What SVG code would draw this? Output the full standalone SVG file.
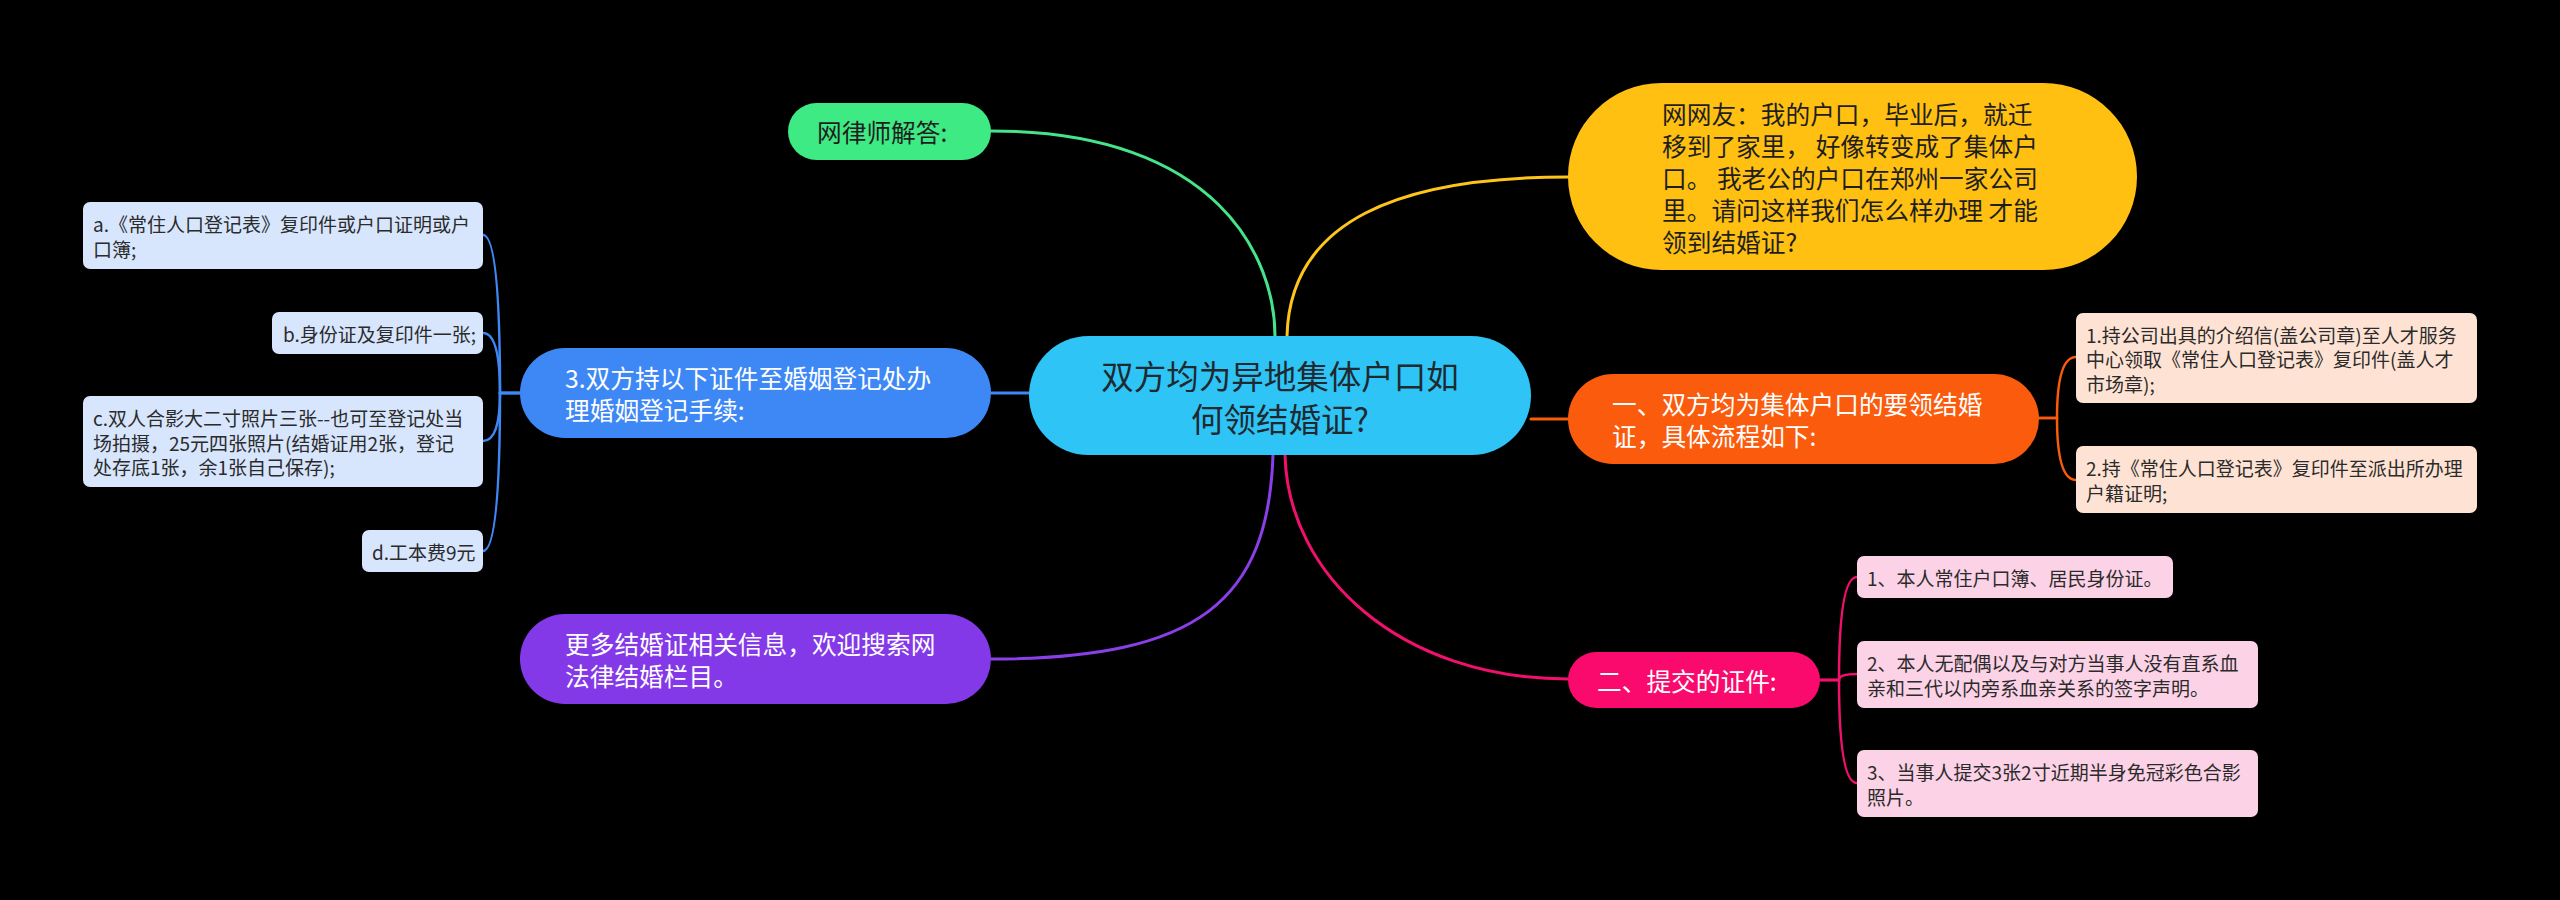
<svg xmlns="http://www.w3.org/2000/svg" width="2560" height="900" viewBox="0 0 2560 900">
<style>
text{font-family:"Noto Sans CJK SC","Liberation Sans",sans-serif;dominant-baseline:central}
.big{font-size:24.7px}
.ctr{font-size:32.5px;fill:#1e2a30}
.sm{font-size:19px;fill:#2b2b2b}
.w{fill:#ffffff}
.dk{fill:#1e1e1e}
.c{fill:none;stroke-width:3;stroke-linecap:round}
.b{fill:none;stroke-width:2.5;stroke-linecap:round}
</style>
<rect x="0" y="0" width="2560" height="900" fill="#000000"/>
<g id="connectors">
<path class="c" stroke="#46E48A" d="M1275,336 C1275,260 1220,131 991,131"/>
<path class="c" stroke="#FFC41A" d="M1287,336 C1290,220 1400,177 1568,177"/>
<path class="c" stroke="#3E88F5" d="M1030,393 H991"/>
<path class="c" stroke="#FA5B0C" d="M1531,419 H1568"/>
<path class="c" stroke="#8A3FE8" d="M1273,455 C1268,600 1200,659 991,659"/>
<path class="c" stroke="#F2106D" d="M1285,455 C1288,575 1400,679 1568,679"/>
<path class="b" stroke="#3E88F5" d="M520,393 H500 Q500,235 483,235"/>
<path class="b" stroke="#3E88F5" d="M520,393 H500 Q500,333 483,333"/>
<path class="b" stroke="#3E88F5" d="M520,393 H500 Q500,441 483,441"/>
<path class="b" stroke="#3E88F5" d="M520,393 H500 Q500,551 483,551"/>
<path class="b" stroke="#FA5B0C" d="M2039,418 H2057 Q2057,357 2076,357"/>
<path class="b" stroke="#FA5B0C" d="M2039,418 H2057 Q2057,480 2076,480"/>
<path class="b" stroke="#F2106D" d="M1820,680 H1839 Q1839,577 1857,577"/>
<path class="b" stroke="#F2106D" d="M1820,680 H1839 Q1839,674 1857,674"/>
<path class="b" stroke="#F2106D" d="M1820,680 H1839 Q1839,783 1857,783"/>
</g>
<g id="center">
<rect x="1029" y="336" width="502" height="119" rx="59.5" fill="#2EC4F5"/>
<text class="ctr" x="1280" y="374" text-anchor="middle">双方均为异地集体户口如</text>
<text class="ctr" x="1280" y="417" text-anchor="middle">何领结婚证?</text>
</g>
<g id="lawyer">
<rect x="788" y="103" width="203" height="57" rx="28.5" fill="#3DEA84"/>
<text class="big dk" x="817" y="131">网律师解答:</text>
</g>
<g id="question">
<rect x="1568" y="83" width="569" height="187" rx="93.5" fill="#FFC012"/>
<text class="big dk" x="1662" y="113">网网友：我的户口，毕业后，就迁</text>
<text class="big dk" x="1662" y="145">移到了家里， 好像转变成了集体户</text>
<text class="big dk" x="1662" y="177">口。 我老公的户口在郑州一家公司</text>
<text class="big dk" x="1662" y="209">里。请问这样我们怎么样办理 才能</text>
<text class="big dk" x="1662" y="241">领到结婚证?</text>
</g>
<g id="step3">
<rect x="520" y="348" width="471" height="90" rx="45" fill="#3E88F5"/>
<text class="big w" x="565" y="377">3.双方持以下证件至婚姻登记处办</text>
<text class="big w" x="565" y="409">理婚姻登记手续:</text>
</g>
<g id="more">
<rect x="520" y="614" width="471" height="90" rx="45" fill="#8439E8"/>
<text class="big w" x="565" y="643">更多结婚证相关信息，欢迎搜索网</text>
<text class="big w" x="565" y="675">法律结婚栏目。</text>
</g>
<g id="part1">
<rect x="1568" y="374" width="471" height="90" rx="45" fill="#FA5B0C"/>
<text class="big w" x="1612" y="403">一、双方均为集体户口的要领结婚</text>
<text class="big w" x="1612" y="435">证，具体流程如下:</text>
</g>
<g id="part2">
<rect x="1568" y="652" width="252" height="56" rx="28" fill="#F90A6C"/>
<text class="big w" x="1597" y="680">二、提交的证件:</text>
</g>
<g id="item-a">
<rect x="83" y="202" width="400" height="67" rx="7" fill="#D7E6FD"/>
<text class="sm" x="93" y="223">a.《常住人口登记表》复印件或户口证明或户</text>
<text class="sm" x="93" y="248">口簿;</text>
</g>
<g id="item-b">
<rect x="272" y="312" width="211" height="42" rx="7" fill="#D7E6FD"/>
<text class="sm" x="283" y="333">b.身份证及复印件一张;</text>
</g>
<g id="item-c">
<rect x="83" y="396" width="400" height="91" rx="7" fill="#D7E6FD"/>
<text class="sm" x="93" y="417">c.双人合影大二寸照片三张--也可至登记处当</text>
<text class="sm" x="93" y="442">场拍摄，25元四张照片(结婚证用2张，登记</text>
<text class="sm" x="93" y="466">处存底1张，余1张自己保存);</text>
</g>
<g id="item-d">
<rect x="362" y="530" width="121" height="42" rx="7" fill="#D7E6FD"/>
<text class="sm" x="372" y="551">d.工本费9元</text>
</g>
<g id="step1-1">
<rect x="2076" y="313" width="401" height="90" rx="7" fill="#FEE3D4"/>
<text class="sm" x="2086" y="334">1.持公司出具的介绍信(盖公司章)至人才服务</text>
<text class="sm" x="2086" y="358">中心领取《常住人口登记表》复印件(盖人才</text>
<text class="sm" x="2086" y="383">市场章);</text>
</g>
<g id="step1-2">
<rect x="2076" y="446" width="401" height="67" rx="7" fill="#FEE3D4"/>
<text class="sm" x="2086" y="467">2.持《常住人口登记表》复印件至派出所办理</text>
<text class="sm" x="2086" y="492">户籍证明;</text>
</g>
<g id="doc1">
<rect x="1857" y="556" width="316" height="42" rx="7" fill="#FCD2E6"/>
<text class="sm" x="1867" y="577">1、本人常住户口簿、居民身份证。</text>
</g>
<g id="doc2">
<rect x="1857" y="641" width="401" height="67" rx="7" fill="#FCD2E6"/>
<text class="sm" x="1867" y="662">2、本人无配偶以及与对方当事人没有直系血</text>
<text class="sm" x="1867" y="687">亲和三代以内旁系血亲关系的签字声明。</text>
</g>
<g id="doc3">
<rect x="1857" y="750" width="401" height="67" rx="7" fill="#FCD2E6"/>
<text class="sm" x="1867" y="771">3、当事人提交3张2寸近期半身免冠彩色合影</text>
<text class="sm" x="1867" y="796">照片。</text>
</g>
</svg>
